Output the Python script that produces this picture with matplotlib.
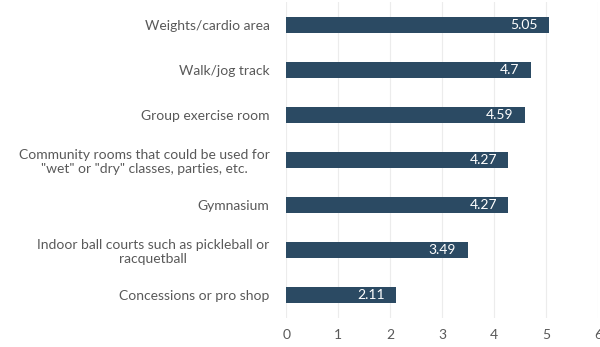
import matplotlib.pyplot as plt

# categorie e punteggi medi
labels = ["Weights/cardio area",
          "Walk/jog track",
          "Group exercise room",
          "Community rooms that could be used for\n\"wet\" or \"dry\" classes, parties, etc.",
          "Gymnasium",
          "Indoor ball courts such as pickleball or\nracquetball",
          "Concessions or pro shop"]
scores = [5.05, 4.7, 4.59, 4.27, 4.27, 3.49, 2.11]
score_text = ["5.05", "4.7", "4.59", "4.27", "4.27", "3.49", "2.11"]

plt.rcParams['font.family'] = ['Lato', 'DejaVu Sans']

fig = plt.figure(figsize=(6, 3.47), dpi=100)
ax = fig.add_axes([0.477, 0.085, 0.52, 0.908])

pos = list(range(len(labels)))[::-1]
ax.barh(pos, scores, height=0.36, color='#2b4a63', zorder=2)

# valori scritti dentro la barra, vicino alla fine
for p, s, t in zip(pos, scores, score_text):
    ax.text(s - 0.22, p, t, ha='right', va='center', color='white', fontsize=10, zorder=3)

ax.set_xlim(0, 6)
ax.set_ylim(-0.5, 6.5)
ax.set_xticks(range(7))
ax.set_yticks(pos)
ax.set_yticklabels(labels, fontsize=10, color='#595959', ha='right',
                   multialignment='center', linespacing=1.25)
ax.tick_params(axis='y', length=0, pad=12)
ax.tick_params(axis='x', length=0, pad=8, labelsize=10, labelcolor='#595959')
ax.grid(axis='x', color='#ececec', linewidth=0.8, zorder=0)
for sp in ax.spines.values():
    sp.set_visible(False)

plt.savefig('out.png')
